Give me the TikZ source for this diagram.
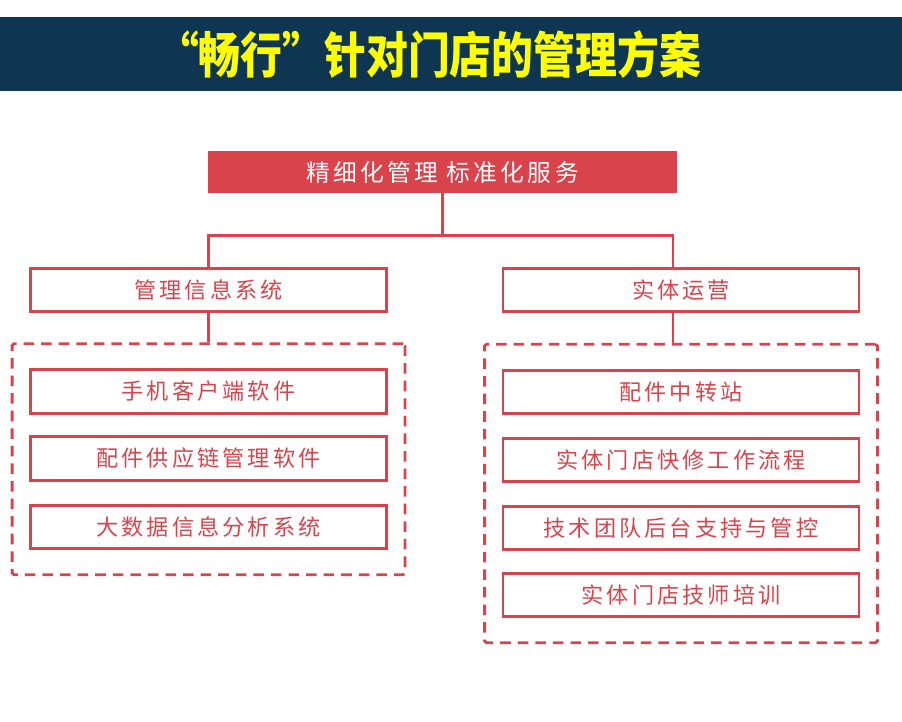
\documentclass[tikz,border=0pt]{standalone}
\usepackage{fontspec}
\setmainfont{Noto Sans CJK SC}
\newfontfamily\titlefont[FakeStretch=0.85]{Noto Sans CJK SC}
\newfontfamily\boxfont[LetterSpace=14]{Noto Sans CJK SC}
\usepackage{xcolor}
\usepackage{tikz}
\usetikzlibrary{positioning, fit, calc}
\definecolor{barblue}{HTML}{0E3652}
\definecolor{boxred}{HTML}{D9434B}
\definecolor{titleyellow}{HTML}{FFFF00}
\tikzset{
  goalbox/.style={rectangle, fill=boxred, minimum width=9.38cm, minimum height=0.84cm, align=center, text=white, font=\boxfont\fontsize{13.5}{15}\selectfont},
  item/.style={draw=boxred, line width=1.6pt, rectangle, fill=white, minimum width=7.12cm, minimum height=0.87cm, align=center, text=boxred, font=\boxfont\fontsize{12.6}{14}\selectfont},
  group/.style={draw=boxred, line width=1.6pt, dashed, dash pattern=on 6pt off 4pt, rounded corners=1pt, inner xsep=0.34cm, inner ysep=0.49cm},
  link/.style={draw=boxred, line width=1.6pt}
}
\begin{document}
\begin{tikzpicture}
  \useasboundingbox (0,0) rectangle (18.04,-14.44);

  % Title bar
  \fill[barblue] (0,-0.34) rectangle (18.04,-1.82);
  \node[text=titleyellow, font=\titlefont\bfseries\fontsize{28}{30}\selectfont] (title) at (8.58,-1.1) {“畅行”针对门店的管理方案};

  % Top of the tree
  \node[goalbox] (goal) at (8.85,-3.44) {精细化管理\ 标准化服务};
  \node[item] (mis) at (4.17,-5.8) {管理信息系统};
  \node[item] (ops) at (13.62,-5.8) {实体运营};
  \coordinate (opsjoin) at ($(ops.north)+(-0.16,0)$);

  % Left column
  \node[item] (app) at (4.17,-7.83) {手机客户端软件};
  \node[item] (supply) at (4.17,-9.17) {配件供应链管理软件};
  \node[item] (data) at (4.17,-10.54) {大数据信息分析系统};

  % Right column
  \node[item] (hub) at (13.62,-7.84) {配件中转站};
  \node[item] (repair) at (13.62,-9.2) {实体门店快修工作流程};
  \node[item] (backend) at (13.62,-10.56) {技术团队后台支持与管控};
  \node[item] (train) at (13.62,-11.9) {实体门店技师培训};

  % Dashed groups
  \node[group, fit=(app) (data)] (lgrp) {};
  \node[group, fit=(hub) (train)] (rgrp) {};

  % Connectors
  \draw[link] (goal.south) -- ++(0,-0.84) coordinate (split) -| (opsjoin);
  \draw[link] (split) -| (mis.north);
  \draw[link] (mis.south) -- (lgrp.north -| mis.south);
  \draw[link] (ops.south -| opsjoin) -- (rgrp.north -| opsjoin);
\end{tikzpicture}
\end{document}
